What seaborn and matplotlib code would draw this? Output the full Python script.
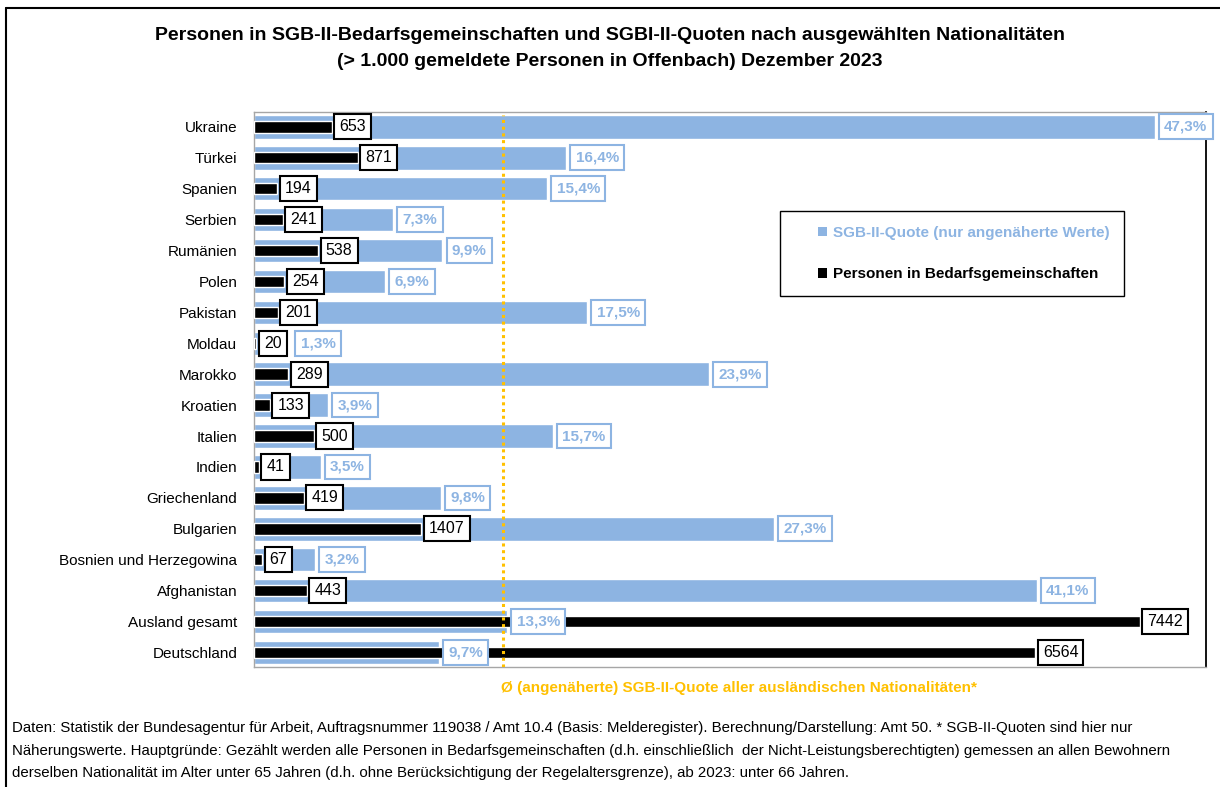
import matplotlib
matplotlib.use("Agg")
import matplotlib.pyplot as plt
import seaborn as sns
import pandas as pd
from matplotlib.lines import Line2D
from matplotlib.patches import Patch, Rectangle
from matplotlib.legend_handler import HandlerPatch
from matplotlib.transforms import blended_transform_factory

categories = ["Ukraine", "Türkei", "Spanien", "Serbien", "Rumänien", "Polen", "Pakistan",
              "Moldau", "Marokko", "Kroatien", "Italien", "Indien", "Griechenland",
              "Bulgarien", "Bosnien und Herzegowina", "Afghanistan", "Ausland gesamt",
              "Deutschland"]
quote = [47.3, 16.4, 15.4, 7.3, 9.9, 6.9, 17.5, 1.3, 23.9, 3.9, 15.7, 3.5, 9.8, 27.3,
         3.2, 41.1, 13.3, 9.7]
persons = [653, 871, 194, 241, 538, 254, 201, 20, 289, 133, 500, 41, 419, 1407, 67,
           443, 7442, 6564]
avg_quote = 13.1

title1 = "Personen in SGB-II-Bedarfsgemeinschaften und SGBI-II-Quoten nach ausgewählten Nationalitäten"
title2 = "(> 1.000 gemeldete Personen in Offenbach) Dezember 2023"
legend_labels = ["SGB-II-Quote (nur angenäherte Werte)", "Personen in Bedarfsgemeinschaften"]
avg_label = "Ø (angenäherte) SGB-II-Quote aller ausländischen Nationalitäten*"
footnote = [
    "Daten: Statistik der Bundesagentur für Arbeit, Auftragsnummer 119038 / Amt 10.4 (Basis: Melderegister). Berechnung/Darstellung: Amt 50. * SGB-II-Quoten sind hier nur",
    "Näherungswerte. Hauptgründe: Gezählt werden alle Personen in Bedarfsgemeinschaften (d.h. einschließlich  der Nicht-Leistungsberechtigten) gemessen an allen Bewohnern",
    "derselben Nationalität im Alter unter 65 Jahren (d.h. ohne Berücksichtigung der Regelaltersgrenze), ab 2023: unter 66 Jahren.",
]

BLUE = "#8DB4E2"
ORANGE = "#FFC000"
GRAY = "#A6A6A6"
# extra horizontal nudge (points) for percentage labels that would collide
label_nudge = {"Moldau": 9}

sns.set_theme(style="white")
plt.rcParams["font.family"] = ["Liberation Sans", "DejaVu Sans"]
plt.rcParams["text.color"] = "black"
plt.rcParams["ytick.color"] = "black"

df = pd.DataFrame({"Nationalität": categories, "Quote": quote, "Personen": persons})

W, H = 1220, 787
fig = plt.figure(figsize=(W / 100, H / 100), dpi=100)
ax = fig.add_axes([254 / W, 1 - 667 / H, (1206 - 254) / W, (667 - 112) / H])
ax2 = ax.twiny()

sns.barplot(data=df, x="Quote", y="Nationalität", orient="h", color=BLUE,
            saturation=1, width=0.76, ax=ax)
sns.barplot(data=df, x="Personen", y="Nationalität", orient="h", color="black",
            saturation=1, width=0.37, ax=ax2)

ax.set_xlim(0, 50)
ax2.set_xlim(0, 8000)
ax.set_ylim(len(categories) - 0.53, -0.48)
for a in (ax, ax2):
    a.set_xticks([])
    a.set_xlabel("")
    a.set_ylabel("")
ax.tick_params(axis="y", length=0, pad=12, labelsize=11, labelcolor="black")
ax.grid(False)
ax2.grid(False)
for s in ("left", "top", "bottom"):
    ax.spines[s].set_color(GRAY)
    ax.spines[s].set_linewidth(1.0)
ax.spines["right"].set_color("black")
ax.spines["right"].set_linewidth(1.3)
for s in ax2.spines.values():
    s.set_visible(False)

# average line (drawn on top of both bar series)
blend = blended_transform_factory(ax.transData, ax2.transAxes)
ax2.plot([avg_quote, avg_quote], [0, 0.995], transform=blend, color=ORANGE,
         lw=2.2, linestyle=(0, (1.0, 1.2)), solid_capstyle="butt", zorder=5)
ax2.annotate(avg_label, xy=(avg_quote, 0), xycoords=blend, xytext=(-1.5, -10),
             textcoords="offset points", ha="left", va="top", fontsize=11,
             fontweight="bold", color=ORANGE, annotation_clip=False)

# value labels
for i, (c, q, p) in enumerate(zip(categories, quote, persons)):
    ax2.annotate(f"{q:.1f}".replace(".", ",") + "%", xy=(q, i), xycoords=ax.transData,
                 xytext=(6.8 + label_nudge.get(c, 0), 0), textcoords="offset points",
                 ha="left", va="center",
                 fontsize=11, fontweight="bold", color=BLUE, zorder=6,
                 bbox=dict(boxstyle="square,pad=0.35", fc="white", ec=BLUE, lw=1.5))
    ax2.annotate(f"{p}", xy=(p, i), xycoords="data",
                 xytext=(5.5, 0), textcoords="offset points", ha="left", va="center",
                 fontsize=11.5, color="black", zorder=7,
                 bbox=dict(boxstyle="square,pad=0.32", fc="white", ec="black", lw=1.5))


def right_square(legend, orig_handle, xdescent, ydescent, width, height, fontsize):
    s = height * 0.85
    return Rectangle((width - xdescent - s, -ydescent + (height - s) / 2), s, s)


handles = [Patch(facecolor=BLUE, edgecolor="none"), Patch(facecolor="black", edgecolor="none")]
leg = ax2.legend(handles, legend_labels, loc="upper left",
                 bbox_to_anchor=(780 / W, 1 - 211 / H), bbox_transform=fig.transFigure,
                 borderaxespad=0, borderpad=0.97, handlelength=2.1, handletextpad=0.4,
                 labelspacing=1.8, fancybox=False, framealpha=1, edgecolor="black",
                 prop={"weight": "bold", "size": 11}, labelcolor=[BLUE, "black"],
                 handler_map={Patch: HandlerPatch(patch_func=right_square)})
leg.get_frame().set_linewidth(1.0)
leg.set_zorder(10)

# titles
fig.text(0.5, 1 - 35 / H, title1, ha="center", va="center", fontsize=14, fontweight="bold")
fig.text(0.5, 1 - 62 / H, title2, ha="center", va="center", fontsize=14, fontweight="bold")

# footnote
for k, line in enumerate(footnote):
    fig.text(12 / W, 1 - (728 + 22.5 * k) / H, line, ha="left", va="center", fontsize=10.8)

# outer frame lines
fig.add_artist(Line2D([6 / W, 6 / W], [0, 1 - 8 / H], transform=fig.transFigure,
                      color="black", lw=1.5))
fig.add_artist(Line2D([6 / W, 1], [1 - 8 / H, 1 - 8 / H], transform=fig.transFigure,
                      color="black", lw=1.5))

fig.savefig("out.png", dpi=100)
